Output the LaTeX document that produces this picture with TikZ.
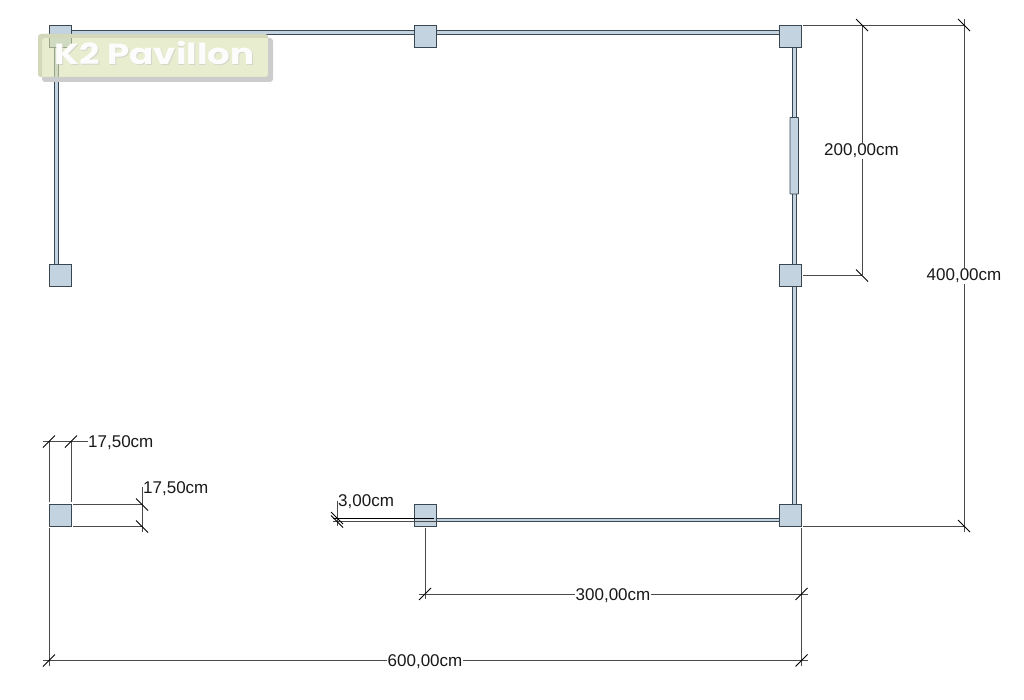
\documentclass[tikz,border=0pt]{standalone}
\usepackage{fontspec}
\setmainfont{Liberation Sans}
\newfontfamily\logofont{Poppins}[BoldFont={Poppins Bold}]
\definecolor{steel}{HTML}{C3D3DF}
\definecolor{edge}{HTML}{3A4650}
\definecolor{dimgrey}{HTML}{4A4A4A}
\definecolor{logobg}{HTML}{D9E1AF}
\usetikzlibrary{calc}
\tikzset{
  x=1pt,y=-1pt,
  post/.style={draw=edge,fill=steel,line width=.9pt,minimum size=22pt,inner sep=0pt,outer sep=0pt},
  wall/.style={draw=edge,fill=steel,line width=.9pt},
  dimline/.style={draw=dimgrey,line width=.9pt},
  tick/.style={draw=black,line width=.9pt},
  dimtext/.style={font=\fontsize{17}{17}\selectfont,fill=white,inner sep=0.5pt,text=black!90},
  freetext/.style={font=\fontsize{17}{17}\selectfont,inner sep=0pt,text=black!90},
  logotext/.style={font=\logofont\bfseries\fontsize{29}{29}\selectfont,inner sep=0pt,xscale=1.23},
}
\newcommand{\slashtick}[1]{\draw[tick] ($(#1)+(-6,6)$) -- ($(#1)+(6,-6)$);}
\newcommand{\backtick}[1]{\draw[tick] ($(#1)+(-6,-6)$) -- ($(#1)+(6,6)$);}
\begin{document}
\begin{tikzpicture}
\useasboundingbox (0,0) rectangle (1024,700);
% walls
\draw[wall] (71,30) rectangle (779,34);
\draw[wall] (54,47) rectangle (58,264);
\draw[wall] (792.5,47) rectangle (796.5,504);
\draw[wall] (436,518) rectangle (779,521.5);
\draw[wall,rounded corners=.5pt] (790,117.5) rectangle (798.5,194);
% posts
\node[post] (tl) at (60,36.5) {};
\node[post] (tm) at (425,36.5) {};
\node[post] (tr) at (790.5,36.5) {};
\node[post] (ml) at (60,275.5) {};
\node[post] (mr) at (790.5,275.5) {};
\node[post] (bl) at (60,515.5) {};
\node[post] (bm) at (425,515.5) {};
\node[post] (br) at (790.5,515.5) {};
% dimension points
\coordinate (a1) at (862,25);
\coordinate (a2) at (964,25);
\coordinate (a3) at (862,275.5);
\coordinate (a4) at (964,526);
\coordinate (b1) at (801.5,594);
\coordinate (b2) at (801.5,660.5);
\coordinate (b3) at (425,594);
\coordinate (b4) at (49,660.5);
\coordinate (c1) at (49,441.5);
\coordinate (c2) at (71,441.5);
\coordinate (d1) at (142,504.5);
\coordinate (d2) at (142,526.5);
\coordinate (e1) at (337,518);
\coordinate (e2) at (337,521.5);
% dimension lines
\draw[dimline] (803,25) -- (a2);
\draw[dimline] (803,275.5) -- (a3);
\draw[dimline] (803,526) -- (a4);
\draw[dimline] (a1) -- (a3);
\draw[dimline] ($(a2)+(0,-6)$) -- ($(a4)+(0,6)$);
\draw[dimline] (801.5,528) -- ($(b2)+(0,5)$);
\draw[dimline] (425,528) -- ($(b3)+(0,5)$);
\draw[dimline] (49,528) -- ($(b4)+(0,5)$);
\draw[dimline] ($(b3)+(-6,0)$) -- ($(b1)+(6,0)$);
\draw[dimline] ($(b4)+(-6,0)$) -- ($(b2)+(6,0)$);
\draw[dimline] (c1) -- (49,502);
\draw[dimline] (c2) -- (71,502);
\draw[dimline] ($(c1)+(-6,0)$) -- (88,441.5);
\draw[dimline] (73,504.5) -- (d1);
\draw[dimline] (73,526.5) -- (d2);
\draw[dimline] (142,487) -- ($(d2)+(0,5)$);
\draw[dimline] (337,501) -- (337,526);
\draw[draw=black,line width=.9pt] ($(e1)+(-4,0)$) -- (434,518);
\draw[dimline] ($(e2)+(-4,0)$) -- (436,521.5);
% ticks
\backtick{a1} \backtick{a2} \backtick{a3} \backtick{a4}
\slashtick{b1} \slashtick{b2} \slashtick{b3} \slashtick{b4}
\slashtick{c1} \slashtick{c2}
\backtick{d1} \backtick{d2}
\backtick{e1} \backtick{e2}
% labels
\node[dimtext] (t200) at (861.5,151) {200,00cm};
\node[dimtext] (t400) at (964,276) {400,00cm};
\node[dimtext] (t300) at (613,595.5) {300,00cm};
\node[dimtext] (t600) at (425,661.5) {600,00cm};
\node[freetext,anchor=west] (t175a) at (88,442.5) {17,50cm};
\node[freetext,anchor=west] (t175b) at (143,489) {17,50cm};
\node[freetext,anchor=west] (t3) at (338,502) {3,00cm};
% logo
\fill[black!20,even odd rule,rounded corners=3pt] (42,38) rectangle (273,82) (38,34) rectangle (268,77);
\fill[logobg,rounded corners=3pt,opacity=.6] (38,34) rectangle (268,77);
\node[logotext,text=black!22,opacity=.6] (logoshadow) at (155.2,54) {K2 Pavillon};
\node[logotext,text=white,opacity=.95] (logo) at (154.5,53) {K2 Pavillon};
\end{tikzpicture}
\end{document}
